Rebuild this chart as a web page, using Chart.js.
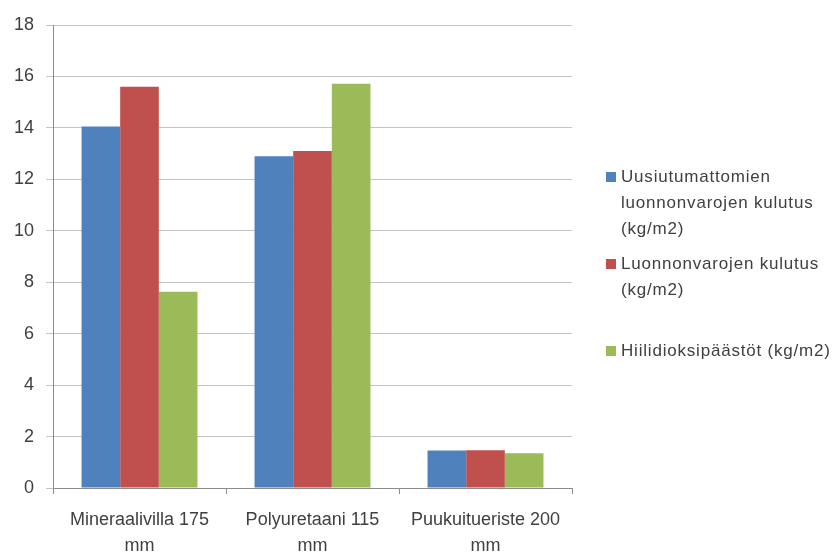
<!DOCTYPE html>
<html>
<head>
<meta charset="utf-8">
<script src="https://cdn.jsdelivr.net/npm/chart.js@4"></script>
<style>
  body { margin: 0; background: #fff; }
  #wrap { position: relative; width: 839px; height: 553px; }
  #legend {
    position: absolute; left: 606px; top: 164px; width: 233px;
    font-family: "Liberation Sans", Arial, sans-serif; font-size: 17px;
    letter-spacing: 0.8px; color: #404040; line-height: 26px;
  }
  .item { position: relative; height: 87px; padding-left: 15px; }
  .box { position: absolute; left: 0; top: 8px; width: 10px; height: 10px; }
</style>
</head>
<body>
<div id="wrap">
  <canvas id="chart"></canvas>
  <div id="legend"></div>
</div>
<script>
// categories (two-line tick labels)
const categories = [
  ["Mineraalivilla 175", "mm"],
  ["Polyuretaani 115", "mm"],
  ["Puukuitueriste 200", "mm"]
];

const seriesNames = [
  "Uusiutumattomien luonnonvarojen kulutus (kg/m2)",
  "Luonnonvarojen kulutus (kg/m2)",
  "Hiilidioksipäästöt (kg/m2)"
];

// values
const nonRenewable = [14.05, 12.9, 1.46];
const resources = [15.6, 13.1, 1.47];
const co2 = [7.63, 15.72, 1.35];

const yTicks = { min: 0, max: 18, step: 2 };

const colors = ["#4F81BD", "#C0504D", "#9BBB59"];
const textColor = "#404040";
const font = { family: "'Liberation Sans', Arial, sans-serif", size: 18, lineHeight: "26px" };

const seriesData = [nonRenewable, resources, co2];

const chart = new Chart(document.getElementById("chart"), {
  type: "bar",
  data: {
    labels: categories,
    datasets: seriesData.map((d, i) => ({
      label: seriesNames[i],
      data: d,
      backgroundColor: colors[i],
      borderWidth: 0,
      categoryPercentage: 0.67,
      barPercentage: 1.0
    }))
  },
  options: {
    responsive: true,
    maintainAspectRatio: false,
    animation: false,
    layout: { padding: { top: 21, right: 267, bottom: 0, left: 0 } },
    plugins: { legend: { display: false }, tooltip: { enabled: false } },
    scales: {
      x: {
        grid: { offset: true, drawOnChartArea: false, drawTicks: true, tickLength: 6, color: "#8c8c8c" },
        border: { color: "#8c8c8c" },
        ticks: { color: textColor, font: font, padding: 13, maxRotation: 0 },
        afterFit: s => { s.height = 65; }
      },
      y: {
        min: yTicks.min,
        max: yTicks.max,
        grid: { color: "#c4c4c4", tickLength: 7 },
        border: { color: "#8c8c8c" },
        ticks: { stepSize: yTicks.step, color: textColor, font: font, padding: 12 },
        afterFit: s => { s.width = 53; }
      }
    }
  }
});

// legend built in HTML so long names can wrap like the original
const legend = document.getElementById("legend");
legend.innerHTML = seriesNames.map((n, i) => `
  <div class="item"><span class="box" style="background:${colors[i]}"></span>${n}</div>
`).join("");
</script>
</body>
</html>
